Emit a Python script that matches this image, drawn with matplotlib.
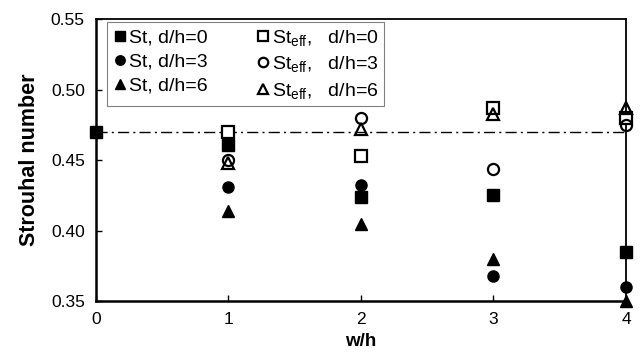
import numpy as np
import matplotlib.pyplot as plt

plt.rc('font', family=['Liberation Sans', 'DejaVu Sans'], size=12.5)
plt.rc('mathtext', fontset='custom', rm='Liberation Sans', it='Liberation Sans:italic')

# spacing ratio w/h
wh = [0, 1, 2, 3, 4]
wh_eff = [1, 2, 3, 4]

# Strouhal number, raw
st_d0 = [0.470, 0.461, 0.424, 0.425, 0.385]
st_d3 = [None, 0.431, 0.432, 0.368, 0.360]
st_d6 = [None, 0.414, 0.405, 0.380, 0.350]

# Strouhal number, effective
steff_d0 = [0.470, 0.453, 0.487, 0.480]
steff_d3 = [0.450, 0.480, 0.444, 0.475]
steff_d6 = [0.448, 0.472, 0.483, 0.487]

st_single = 0.47

fig = plt.figure(figsize=(6.44, 3.55), dpi=100)
ax = fig.add_axes([0.149, 0.152, 0.823, 0.794])

ax.plot([0, 4], [st_single, st_single], color='black', lw=1, ls=(0, (8, 3, 1.5, 3)), zorder=1)

def pts(x, y):
    xs = [a for a, b in zip(x, y) if b is not None]
    ys = [b for b in y if b is not None]
    return xs, ys

ms = 8
h = []
h += ax.plot(*pts(wh, st_d0), 's', color='black', ms=ms, label='St, d/h=0', clip_on=False, zorder=3)
h += ax.plot(*pts(wh, st_d3), 'o', color='black', ms=ms, label='St, d/h=3', clip_on=False, zorder=3)
h += ax.plot(*pts(wh, st_d6), '^', color='black', ms=ms, label='St, d/h=6', clip_on=False, zorder=3)
h += ax.plot(wh_eff, steff_d0, 's', mfc='white', mec='black', mew=1.6, ms=ms,
             label=r'St$_{\mathrm{eff}}$,   d/h=0', clip_on=False, zorder=4)
h += ax.plot(wh_eff, steff_d3, 'o', mfc='none', mec='black', mew=1.6, ms=ms,
             label=r'St$_{\mathrm{eff}}$,   d/h=3', clip_on=False, zorder=4)
h += ax.plot(wh_eff, steff_d6, '^', mfc='none', mec='black', mew=1.6, ms=ms,
             label=r'St$_{\mathrm{eff}}$,   d/h=6', clip_on=False, zorder=4)

ax.set_xlim(0, 4)
ax.set_ylim(0.35, 0.55)
ax.set_xticks([0, 1, 2, 3, 4])
ax.set_yticks([0.35, 0.40, 0.45, 0.50, 0.55])
ax.set_yticklabels(['0.35', '0.40', '0.45', '0.50', '0.55'])
ax.tick_params(direction='in', length=4, width=1, pad=8)

for s in ['left', 'bottom']:
    ax.spines[s].set_linewidth(1.8)
for s in ['top', 'right']:
    ax.spines[s].set_linewidth(1.3)

ax.set_xlabel('w/h', fontsize=13.5, fontweight='bold', labelpad=4)
ax.set_ylabel('Strouhal number', fontsize=15.5, fontweight='bold', labelpad=8)

leg = ax.legend(handles=h, ncol=2, loc='upper left', bbox_to_anchor=(0.021, 0.989),
                borderaxespad=0, fancybox=False, edgecolor='gray', framealpha=1,
                markerscale=0.85, handlelength=0.8, handletextpad=0.05,
                columnspacing=2.45, labelspacing=0.33, borderpad=0.28, fontsize=14)
leg.get_frame().set_linewidth(0.8)

fig.savefig('out.png', dpi=100)
